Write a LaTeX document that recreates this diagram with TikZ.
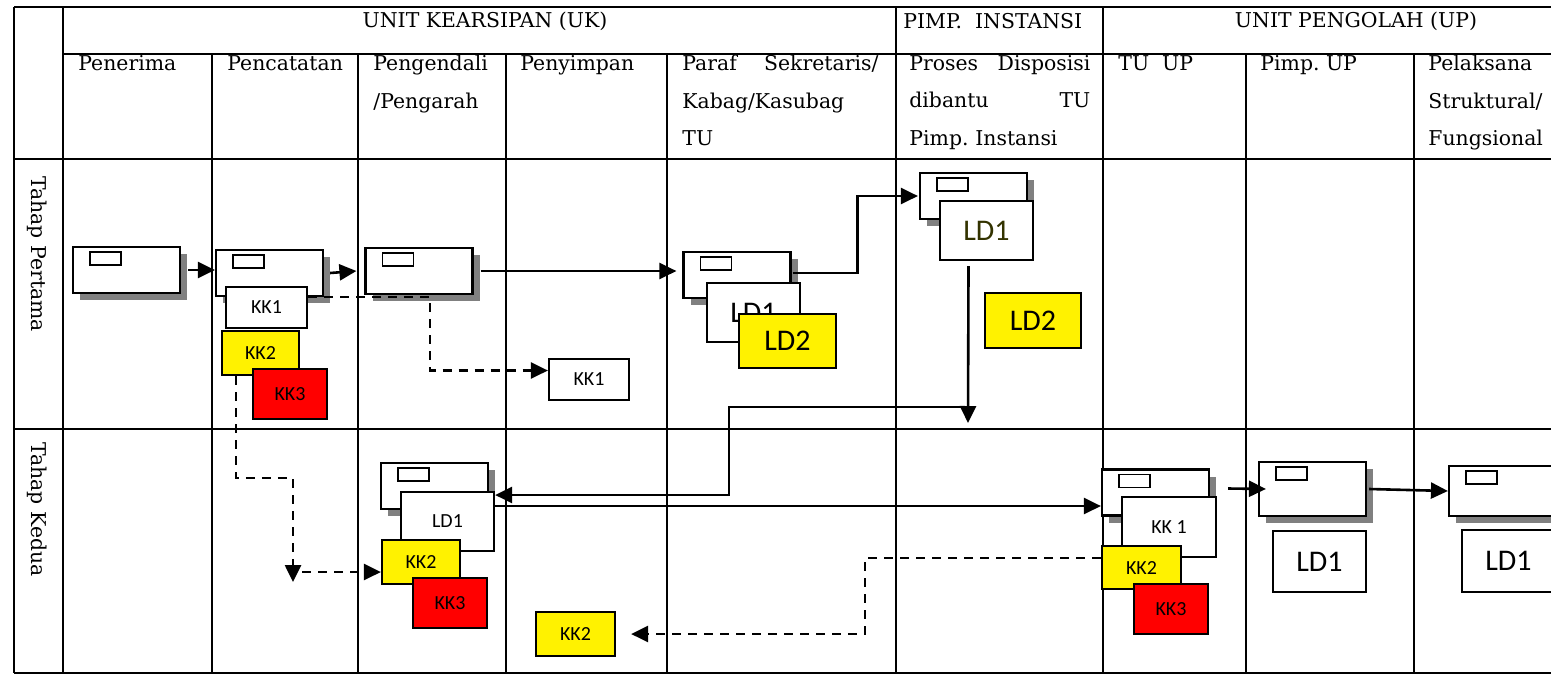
\documentclass[tikz,border=0pt]{standalone}
\usepackage{fontspec}
\setmainfont{DejaVu Serif}
\newfontfamily\calibfont{Carlito}
\usetikzlibrary{arrows.meta,shadows}
\definecolor{ldolive}{RGB}{51,51,0}
\frenchspacing

\begin{document}
\begin{tikzpicture}
  [ x=0.5pt, y=-0.5pt,
    grid/.style={line width=1.3pt, black},
    hd/.style={font=\fontsize{10.2}{18.75}\selectfont, inner sep=0pt, anchor=north west, align=left},
    grp/.style={font=\fontsize{10.2}{12}\selectfont, inner sep=0pt},
    side/.style={font=\fontsize{10.2}{12}\selectfont, inner sep=0pt, rotate=-90, anchor=west},
    doc/.style={rectangle, draw=black, line width=1.1pt, fill=white, inner sep=0pt,
      minimum width=53.5pt, minimum height=23pt,
      drop shadow={shadow xshift=3.5pt, shadow yshift=-3.5pt, fill=gray, opacity=1},
      path picture={\draw[line width=0.9pt] ([xshift=8.5pt,yshift=-2.5pt]path picture bounding box.north west) rectangle ++(15.5pt,-6.5pt);}},
    kkw/.style={rectangle, draw=black, line width=1.1pt, fill=white, inner sep=0pt,
      font=\calibfont\fontsize{10}{11}\selectfont},
    kky/.style={kkw, fill=yellow},
    kkr/.style={kkw, fill=red},
    ld/.style={kkw, font=\calibfont\fontsize{15}{17}\selectfont},
    ldy/.style={ld, fill=yellow},
    line1/.style={line width=1.3pt, black, -{Triangle[length=8.5pt,width=8pt]}},
    line2/.style={line1, dash pattern=on 4.5pt off 3.5pt}
  ]

  \useasboundingbox (0,0) rectangle (1551,675);
  \clip (0,0) rectangle (1551,675);

  % table
  \draw[grid] (14,7) -- (1600,7);
  \draw[grid] (63,54) -- (1600,54);
  \foreach \y in {159,429,673}
    \draw[grid] (14,\y) -- (1600,\y);
  \foreach \x in {14,63,896,1103}
    \draw[grid] (\x,7) -- (\x,673);
  \foreach \x in {212,358,506,667,1246,1414}
    \draw[grid] (\x,54) -- (\x,673);

  \node[grp] (guk) at (485,21) {UNIT KEARSIPAN (UK)};
  \node[grp, anchor=west] (gpi) at (903,21) {PIMP.\ \ INSTANSI};
  \node[grp] (gup) at (1356,21) {UNIT PENGOLAH (UP)};

  \node[hd] (hpen) at (78,55) {Penerima};
  \node[hd] (hcat) at (227,55) {Pencatatan};
  \node[hd] (hkend) at (373,55) {Pengendali\\/Pengarah};
  \node[hd] (hsim) at (520,55) {Penyimpan};
  \node[hd, text width=98pt] (hpar) at (682,55) {Paraf\hfill Sekretaris/\\Kabag/Kasubag\\TU};
  \node[hd, text width=90.5pt] (hdis) at (909,55) {Proses\hfill Disposisi\\dibantu\hfill TU\\Pimp. Instansi};
  \node[hd] (htu) at (1118,55) {TU\ \ UP};
  \node[hd] (hpup) at (1260,55) {Pimp. UP};
  \node[hd] (hpel) at (1428,55) {Pelaksana\\Struktural/\\Fungsional};

  \node[side] (tp1) at (37,176) {Tahap Pertama};
  \node[side] (tp2) at (37,442) {Tahap Kedua};

  % tahap pertama
  \node[doc] (doc1) at (126.5,270) {};
  \node[doc] (doc2) at (269.5,273) {};
  \node[kkw, minimum width=40.5pt, minimum height=20.5pt] (kk1a) at (266.5,307.5) {KK1};
  \node[kky, minimum width=38.5pt, minimum height=22pt] (kk2a) at (260.5,353) {KK2};
  \node[kkr, minimum width=37pt, minimum height=25pt] (kk3a) at (290,394) {KK3};
  \node[doc] (doc3) at (419,271) {};
  \node[kkw, minimum width=40pt, minimum height=20.5pt] (kk1s) at (589,379.5) {KK1};

  \node[doc] (pdoc) at (737,275) {};
  \node[ld, minimum width=46.5pt, minimum height=29.5pt] (ld1p) at (753.5,312.5) {LD1};
  \node[ldy, minimum width=48.5pt, minimum height=27pt] (ld2p) at (787.5,341) {LD2};

  \node[doc] (idoc) at (973.5,196) {};
  \node[ld, text=ldolive, minimum width=46.5pt, minimum height=29.5pt] (ld1i) at (986.5,230.5) {LD1};
  \node[ldy, minimum width=48pt, minimum height=27.5pt] (ld2i) at (1033,320.5) {LD2};

  % tahap kedua
  \node[doc] (edoc) at (434.5,486) {};
  \node[kkw, minimum width=46.5pt, minimum height=29.5pt] (ld1b) at (447.5,521.5) {LD1\hspace{14pt}};
  \node[kky, minimum width=39pt, minimum height=22pt] (kk2b) at (421,562) {KK2};
  \node[kkr, minimum width=37pt, minimum height=25pt] (kk3b) at (450,603) {KK3};
  \node[kky, minimum width=39.5pt, minimum height=22pt] (kk2c) at (575.5,634) {KK2};

  \node[doc] (tudoc) at (1155.5,492.5) {};
  \node[kkw, minimum width=47pt, minimum height=30pt] (kk1t) at (1169,527) {KK 1\hspace{6pt}};
  \node[kky, minimum width=39.5pt, minimum height=21.5pt] (kk2t) at (1141.5,567.5) {KK2};
  \node[kkr, minimum width=37pt, minimum height=25pt] (kk3t) at (1171,609) {KK3};

  \node[doc, minimum height=27pt] (pudoc) at (1312.5,489) {};
  \node[ld, minimum width=46.5pt, minimum height=30.5pt] (ld1u) at (1319.5,561.5) {LD1};
  \node[doc, minimum height=25pt] (pldoc) at (1502.5,491) {};
  \node[ld, minimum width=46.5pt, minimum height=31pt] (ld1l) at (1508.5,561) {LD1};

  \coordinate (dn) at (968,423);
  \coordinate (ret) at (966,407);
  \coordinate (pc1) at (293,582);

  % arrows
  \draw[line1] ([xshift=3.5pt]doc1.east) -- (doc1.east -| doc2.west);
  \draw[line1] ([xshift=3pt]doc2.east) -- ([xshift=-4pt]doc3.west);
  \draw[line1] ([xshift=3.5pt]doc3.east) -- ([xshift=-3pt]pdoc.west |- doc3.east);
  \draw[line1] ([xshift=0.5pt,yshift=1pt]pdoc.east) -- ++(32.5pt,0) |- ([xshift=-0.5pt]idoc.west);
  \draw[line1] ([xshift=-9pt,yshift=-2.5pt]ld1i.south) -- (dn);
  \draw[line1] (ret) -- ++(-118.5pt,0) |- ([yshift=13.25pt]ld1b.east);
  \draw[line1] ([yshift=7.75pt]ld1b.east) -- ([yshift=7.75pt]ld1b.east -| tudoc.west);
  \draw[line1] ([xshift=9pt,yshift=2pt]tudoc.east) -- ([xshift=4pt]pudoc.west);
  \draw[line1] ([xshift=1pt]pudoc.east) -- (pldoc.west);

  \draw[line2] (kk1a.east |- doc2.south) -- ++(61pt,0) |- ([yshift=4.5pt]kk1s.west);
  \draw[line2] ([xshift=7.5pt]kk2a.south west) -- ++(0,-51pt) -| (pc1);
  \draw[line2] ([xshift=4.5pt,yshift=5pt]pc1) -- ([yshift=-5pt]kk2b.west);
  \draw[line2] ([yshift=4.75pt]kk2t.west) -- ++(-118pt,0) |- ([xshift=7.5pt]kk2c.east);
\end{tikzpicture}
\end{document}
